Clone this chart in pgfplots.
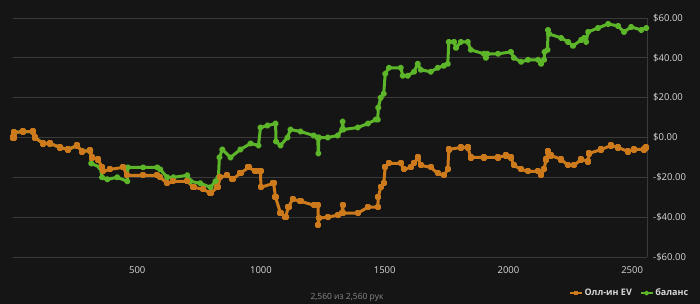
\documentclass[border=0pt]{standalone}
\usepackage{fontspec}
\setmainfont{Open Sans}
\usepackage{pgfplots}
\pgfplotsset{compat=1.18}
\definecolor{bgc}{HTML}{151515}
\definecolor{gridc}{HTML}{3A3A3A}
\definecolor{txt}{HTML}{D8D8D8}
\definecolor{subtxt}{HTML}{8A8A8A}
\definecolor{evc}{HTML}{CC7A1C}
\definecolor{balc}{HTML}{5DB52A}
\begin{document}
\begin{tikzpicture}[x=1pt,y=1pt]
\fill[bgc] (0,0) rectangle (700,304);
\useasboundingbox (0,0) rectangle (700,304);
\begin{axis}[
  at={(13.5pt,47pt)}, anchor=south west,
  scale only axis, width=633.5pt, height=239pt,
  xmin=0, xmax=2560, ymin=-60, ymax=60,
  axis x line*=bottom, axis y line*=right,
  axis line style={gridc, line width=0.8pt, -},
  major tick length=0pt,
  ytick={-60,-40,-20,0,20,40,60},
  yticklabels={-\$60.00,-\$40.00,-\$20.00,\$0.00,\$20.00,\$40.00,\$60.00},
  xtick={500,1000,1500,2000,2500},
  xticklabels={500,1000,1500,2000,2500},
  ymajorgrids, grid style={gridc, line width=0.8pt},
  tick label style={font=\fontsize{9.5}{11}\selectfont, text=txt},
  yticklabel style={anchor=west, inner sep=0pt, xshift=6pt},
  xticklabel style={anchor=north, inner sep=0pt, yshift=-9pt},
  clip=false,
  reverse legend,
  legend columns=2,
  legend style={draw=none, fill=none, at={(0.872,-0.151)}, anchor=west,
    font=\fontsize{9}{11}\selectfont\bfseries, text=txt,
    /tikz/every even column/.append style={column sep=6pt}},
  legend image code/.code={\draw[#1, mark repeat=2, mark phase=2, line width=1.5pt] plot coordinates {(0pt,0pt) (6pt,0pt) (12pt,0pt)};},
]
\addplot[balc, line width=3pt, line join=round, mark=*, mark size=1.8pt, mark options={solid}] coordinates {
(0,0) (2,2.5) (40,3) (79,3) (87,0) (119,-3) (148,-3) (188,-5) (221,-6) (257,-4) (277,-7) (310,-6.5)
(314,-13) (350,-15) (358,-20) (379,-21) (419,-20) (460,-22) (462,-15) (524,-15) (581,-15) (593,-16)
(621,-20) (646,-20) (702,-19) (715,-22) (755,-23) (796,-25) (816,-22) (828,-20) (832,-10) (844,-6)
(877,-10) (917,-6) (958,-3) (990,-4) (998,5) (1026,6) (1059,7) (1061,-2) (1079,-4) (1107,0) (1119,4)
(1160,3) (1213,1) (1229,0) (1232,-8) (1234,0) (1270,0) (1310,1) (1328,4) (1330,8) (1333,4) (1391,5)
(1432,7) (1464,9) (1472,9) (1474,15) (1484,20) (1496,22) (1502,32) (1517,35) (1565,35) (1573,31)
(1593,31) (1618,33) (1634,37) (1646,34) (1686,33) (1714,35) (1739,36) (1755,37) (1759,48) (1780,48)
(1788,45) (1808,48) (1836,48) (1848,44) (1901,42) (1909,40) (1915,42) (1958,42) (2010,43) (2022,40)
(2051,38) (2079,39) (2120,39) (2132,37) (2144,39) (2146,43) (2158,44) (2160,54) (2164,52) (2213,50)
(2241,48) (2261,46) (2294,49) (2306,50) (2314,48) (2322,53) (2362,55) (2403,57) (2443,56) (2467,53)
(2496,55.5) (2537,54) (2557,55)
};
\addlegendentry{баланс}
\addplot[evc, line width=3pt, line join=round, mark=square*, mark size=1.6pt, mark options={solid}] coordinates {
(0,0) (2,2.5) (40,3) (79,3) (87,0) (119,-3) (148,-3) (188,-5) (221,-6) (257,-4) (277,-7) (310,-6.5)
(318,-10) (342,-11) (358,-15) (362,-17) (391,-16) (443,-15) (460,-19) (524,-19) (581,-19) (593,-20)
(621,-23) (646,-22) (702,-22) (727,-25) (767,-26) (796,-28) (824,-25) (836,-20) (864,-19) (885,-21)
(917,-18) (950,-15) (978,-17) (998,-17) (1000,-25) (1051,-23) (1059,-30) (1079,-38) (1099,-40)
(1111,-35) (1128,-31) (1160,-32) (1213,-34) (1231,-34) (1232,-44) (1234,-40.5) (1270,-40) (1310,-39)
(1328,-38) (1330,-34) (1333,-38) (1391,-38) (1432,-35) (1472,-35) (1474,-30) (1484,-25) (1496,-23)
(1502,-15) (1517,-13) (1565,-13) (1577,-16) (1605,-15) (1618,-13) (1634,-10) (1646,-14) (1686,-15)
(1714,-18) (1739,-19) (1755,-16) (1759,-6) (1808,-5) (1836,-5) (1848,-10) (1901,-10) (1958,-10)
(1990,-9) (2010,-10) (2022,-14) (2051,-16) (2079,-17) (2120,-17) (2132,-19) (2144,-16) (2152,-11)
(2160,-7) (2172,-9) (2213,-11) (2241,-14) (2265,-14) (2294,-11) (2322,-12) (2326,-8) (2375,-6)
(2415,-4) (2443,-5) (2483,-7) (2508,-6) (2549,-6) (2557,-5)
};
\addlegendentry{Олл-ин EV}
\end{axis}
\node[font=\fontsize{8.5}{10}\selectfont, text=subtxt] at (347,7) {2,560 из 2,560 рук};
\end{tikzpicture}
\end{document}
